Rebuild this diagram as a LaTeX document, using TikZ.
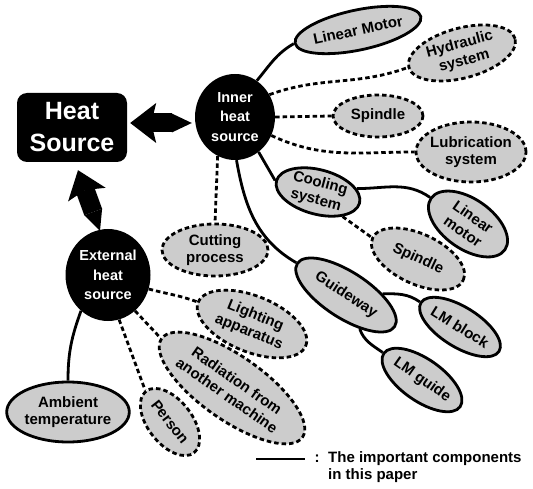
\documentclass[tikz,border=0pt]{standalone}
\usepackage{fontspec}
\setmainfont{Liberation Sans}
\usetikzlibrary{shapes.geometric,arrows.meta}

\begin{document}
\begin{tikzpicture}[
		x=1pt, y=-1pt,
		every node/.style = {
			font=\bfseries\fontsize{15}{17.5}\selectfont,
			align=center, inner sep=0pt},
		source/.style = {
			shape=ellipse, fill=black, text=white,
			font=\bfseries\fontsize{14.5}{19.5}\selectfont},
		part/.style = {shape=ellipse, draw, line width=2.8pt, fill=black!20},
		keypart/.style = {part},
		otherpart/.style = {part, dash pattern=on 4.5pt off 3pt},
		keyline/.style = {line width=2.8pt},
		otherline/.style = {line width=2.8pt, dash pattern=on 4.5pt off 3pt},
		fatarrow/.style = {line width=19pt,
			{Triangle[length=20pt,width=19pt,line width=0pt]}-{Stealth[length=26pt,width=40pt,inset=5pt,line width=0pt]}}]

		\useasboundingbox (0,0) rectangle (533,489);

		\node (heat) [shape=rectangle, rounded corners=10pt, fill=black, text=white,
			minimum width=110pt, minimum height=69pt,
			font=\bfseries\fontsize{25}{32}\selectfont] at (72,127.5) {Heat\\Source};
		\node (inner) [source, minimum width=80pt, minimum height=86pt] at (235,117) {Inner\\heat\\source};
		\node (ext) [source, minimum width=85pt, minimum height=92pt] at (108,275) {External\\heat\\source};

		\node (linmotA) [keypart, minimum width=122pt, minimum height=40pt, rotate=12] at (358,30) {Linear Motor};
		\node (hydraulic) [otherpart, minimum width=110pt, minimum height=50pt, rotate=15] at (462,53) {Hydraulic\\system};
		\node (spindleA) [otherpart, minimum width=90pt, minimum height=42pt] at (378,116) {Spindle};
		\node (lube) [otherpart, minimum width=110pt, minimum height=60pt, inner xsep=-3pt] at (471,152) {Lubrication\\system};
		\node (cooling) [keypart, minimum width=86pt, minimum height=42pt, rotate=-15] at (318,192) {Cooling\\system};
		\node (linmotB) [keypart, minimum width=90pt, minimum height=50pt, rotate=-35] at (468,224) {Linear\\motor};
		\node (spindleB) [otherpart, minimum width=100pt, minimum height=50pt, rotate=-25] at (418,259) {Spindle};
		\node (guide) [keypart, minimum width=116pt, minimum height=46pt, rotate=-33] at (346,295) {Guideway};
		\node (lmblock) [keypart, minimum width=92pt, minimum height=40pt, rotate=-32] at (460,327) {LM block};
		\node (lmguide) [keypart, minimum width=92pt, minimum height=42pt, rotate=-35] at (422,380) {LM guide};
		\node (cutting) [otherpart, minimum width=106pt, minimum height=52pt] at (215,250) {Cutting\\process};
		\node (lighting) [otherpart, minimum width=116pt, minimum height=56pt, rotate=-22] at (252,324) {Lighting\\apparatus};
		\node (radiation) [otherpart, minimum width=172pt, minimum height=64pt, rotate=-35] at (232,388) {Radiation from\\another machine};
		\node (person) [otherpart, minimum width=78pt, minimum height=44pt, rotate=-52] at (170,422) {Person};
		\node (ambient) [keypart, minimum width=120pt, minimum height=60pt] at (68,412) {Ambient\\temperature};

		\draw[keyline] (inner.59) to[out=50,in=210] (linmotA.west);
		\draw[otherline] (inner.33) to[out=20,in=200] (hydraulic.west);
		\draw[otherline] (inner.0) -- (spindleA.west);
		\draw[otherline] (inner.-27) to[out=-25,in=180] (lube.west);
		\draw[keyline] (inner.-56) -- (cooling.west);
		\draw[keyline] (inner.-88) to[out=-80,in=150] (guide.west);
		\draw[otherline] (inner.-114) -- (cutting.north);
		\draw[keyline] (cooling.20) to[out=0,in=145] (linmotB.west);
		\draw[otherline] (cooling.-30) -- (spindleB.west);
		\draw[keyline] (guide.35) to[out=0,in=145] (lmblock.west);
		\draw[keyline] (guide.-35) to[out=-70,in=145] (lmguide.west);
		\draw[keyline] (ext.-127) to[out=-110,in=90] (ambient.north);
		\draw[otherline] (ext.-76) -- (person.west);
		\draw[otherline] (ext.-53) -- (radiation.west);
		\draw[otherline] (ext.-19) to[out=-15,in=160] (lighting.west);

		\draw[fatarrow] ([xshift=-3pt,yshift=-6pt]inner.west) -- ([xshift=3pt,yshift=4.5pt]heat.east);
		\draw[fatarrow] ([xshift=-8pt,yshift=-2pt]ext.north) -- ([xshift=6pt,yshift=-8pt]heat.south);

		\coordinate (legA) at (256,459);
		\coordinate (legB) at (305,459);
		\draw[keyline] (legA) -- (legB);
		\node (colon) at (317,459) {:};
		\node (legend) [anchor=north west, align=left] at (328,451) {The important components\\ in this paper};
\end{tikzpicture}
\end{document}
